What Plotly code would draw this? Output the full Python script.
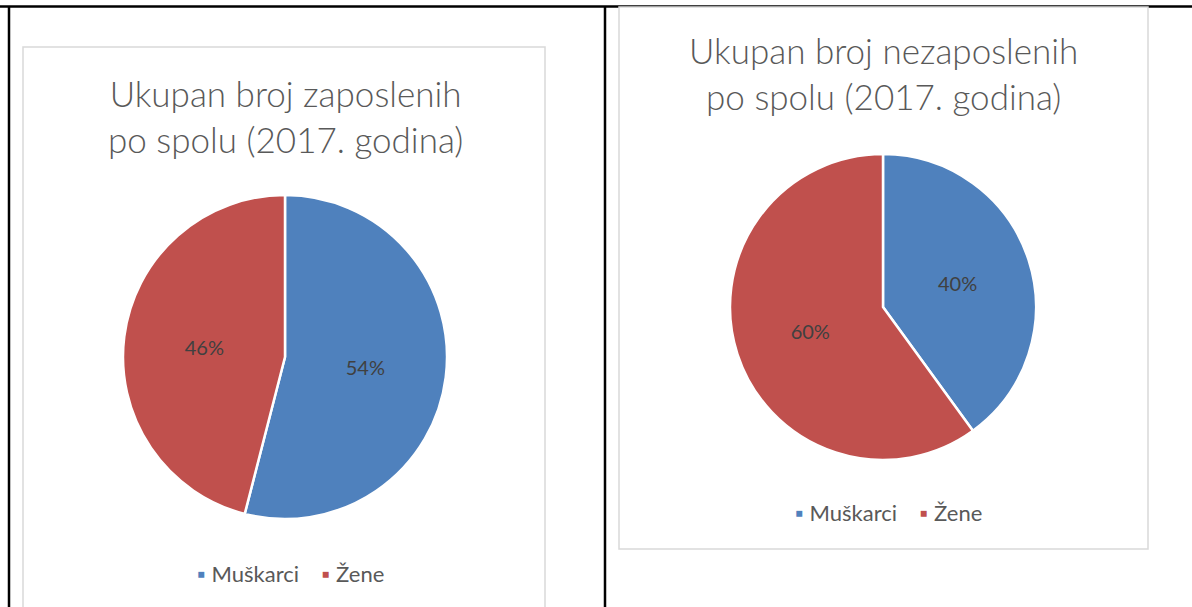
import plotly.graph_objects as go

W, H = 1192, 607

labels = ["Muškarci", "Žene"]
zaposleni = [54, 46]
nezaposleni = [40, 60]
colors = ["#4F81BD", "#C0504D"]

title_left = "Ukupan broj zaposlenih<br>po spolu (2017. godina)"
title_right = "Ukupan broj nezaposlenih<br>po spolu (2017. godina)"

FONT = "Lato"
GREY = "#595959"


def px(x):
    return x / W


def py(y):
    return 1 - y / H


def legend_text(names, cols):
    # pie legend items are shared by label across traces, so each chart gets its own text legend
    items = [f"<span style='color:{c}'>▪</span>&nbsp;{n}" for n, c in zip(names, cols)]
    return "&nbsp;&nbsp;&nbsp;&nbsp;".join(items)


fig = go.Figure()

common = dict(
    labels=labels, sort=False, direction="clockwise", rotation=0,
    marker=dict(colors=colors, line=dict(color="white", width=2.5)),
    textinfo="percent", textposition="inside", insidetextorientation="horizontal",
    textfont=dict(family=FONT, size=20, color="#404040"),
    hoverinfo="label+percent", showlegend=False,
)

fig.add_trace(go.Pie(
    values=zaposleni,
    domain=dict(x=[px(123), px(447)], y=[py(519), py(195)]),
    **common,
))
fig.add_trace(go.Pie(
    values=nezaposleni,
    domain=dict(x=[px(730), px(1036)], y=[py(460), py(154)]),
    **common,
))

black = dict(color="black", width=2.5)
grey = dict(color="#D9D9D9", width=1.5)
shapes = [
    dict(type="line", x0=0, x1=1, y0=py(6.5), y1=py(6.5), line=black),
    dict(type="line", x0=px(9), x1=px(9), y0=py(6), y1=-0.01, line=black),
    dict(type="line", x0=px(605), x1=px(605), y0=py(6), y1=-0.01, line=black),
    dict(type="rect", x0=px(23), x1=px(545), y0=py(47), y1=-0.05, line=grey, fillcolor="white"),
    dict(type="rect", x0=px(619), x1=px(1148), y0=py(7), y1=py(549), line=grey, fillcolor="white"),
]
for s in shapes:
    s.update(xref="paper", yref="paper", layer="below")

title_font = dict(family=FONT, size=35, color=GREY, weight=300)
legend_font = dict(family=FONT, size=22, color=GREY)
annotations = [
    dict(x=px(285), y=py(116), text=title_left, font=title_font),
    dict(x=px(883), y=py(73), text=title_right, font=title_font),
    dict(x=px(290), y=py(573), text=legend_text(labels, colors), font=legend_font),
    dict(x=px(888), y=py(512), text=legend_text(labels, colors), font=legend_font),
]
for a in annotations:
    a.update(xref="paper", yref="paper", showarrow=False, xanchor="center", yanchor="middle",
             align="center")

fig.update_layout(
    width=W, height=H,
    margin=dict(l=0, r=0, t=0, b=0),
    paper_bgcolor="white", plot_bgcolor="white",
    shapes=shapes, annotations=annotations,
)

fig.write_html("out.html", config={"displayModeBar": False},
               post_script="document.body.style.margin='0';")
